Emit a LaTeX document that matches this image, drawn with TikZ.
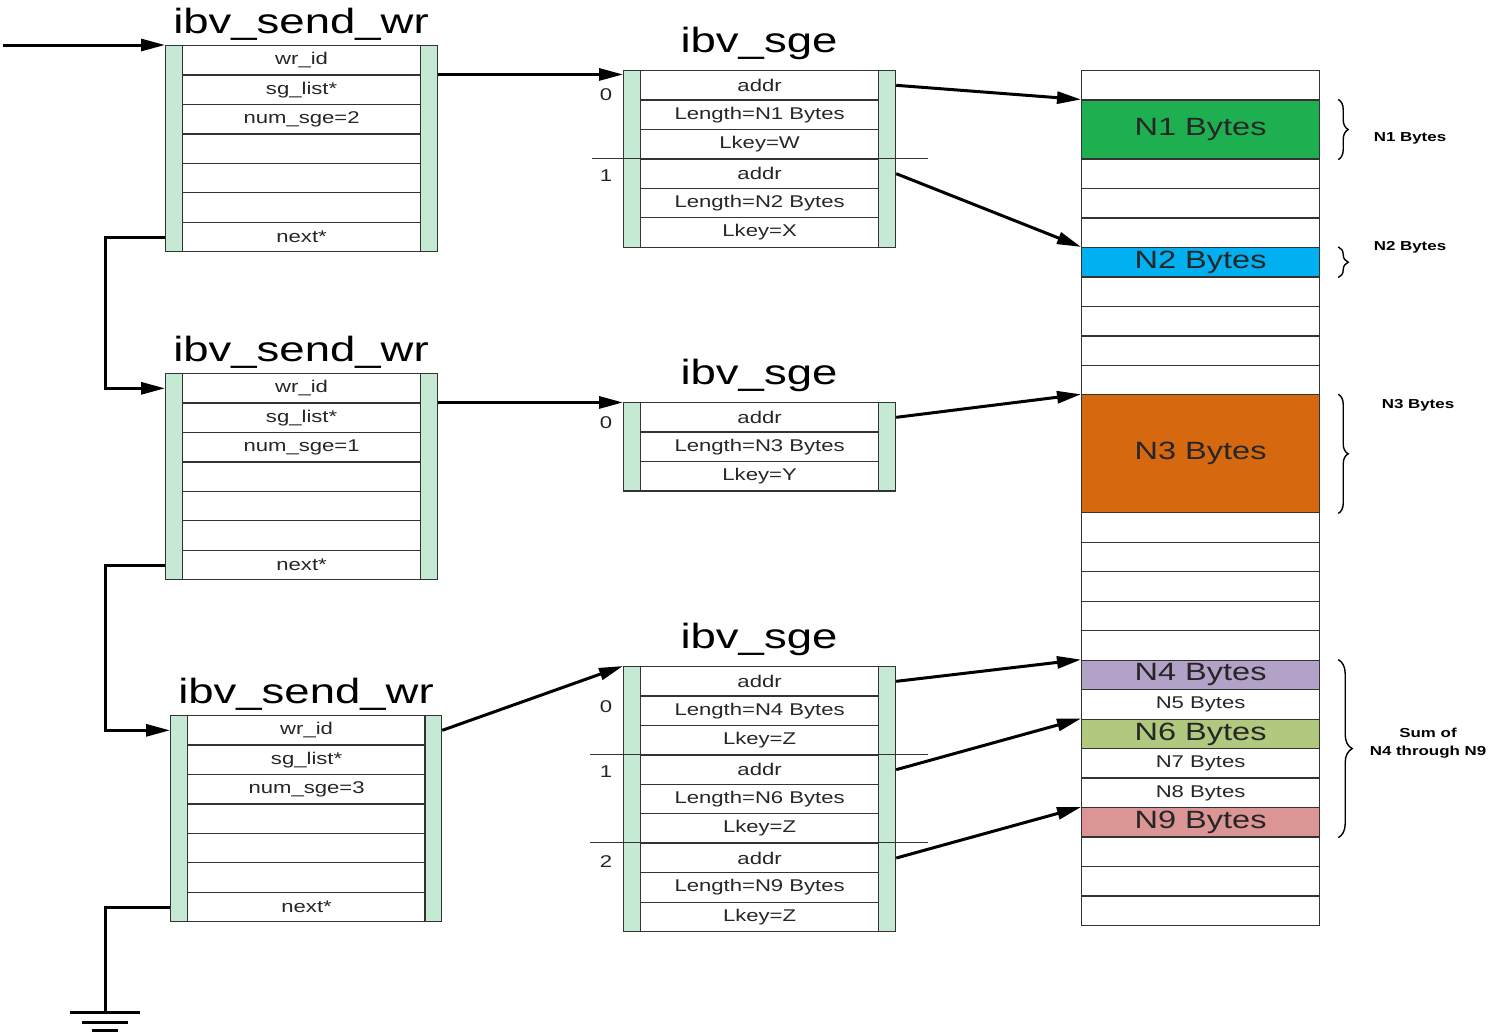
\documentclass[tikz,border=0pt]{standalone}
\usepackage{fontspec}
\setmainfont{Liberation Sans}[FakeStretch=1.3]
\usetikzlibrary{positioning,calc,arrows.meta,decorations.pathreplacing}
\definecolor{barg}{RGB}{198,233,212}
\definecolor{cna}{RGB}{30,176,80}
\definecolor{cnb}{RGB}{0,176,240}
\definecolor{cnc}{RGB}{214,104,16}
\definecolor{cnd}{RGB}{179,162,199}
\definecolor{cnf}{RGB}{176,201,126}
\definecolor{cni}{RGB}{218,149,148}
\tikzset{fld/.style={draw=black!80, line width=0.6pt, rectangle, minimum width=119pt, minimum height=14.72pt, inner sep=0pt, anchor=north west, text=black!85, font=\fontsize{8.5}{10}\selectfont}}
\tikzset{bar/.style={draw=black!80, line width=0.6pt, fill=barg, minimum width=8.5pt, inner sep=0pt, anchor=north west}}
\tikzset{big/.style={font=\fontsize{12.5}{14}\selectfont}}
\tikzset{ttl/.style={anchor=base, font=\fontsize{17.5}{20}\selectfont}}
\tikzset{idx/.style={text=black!85, font=\fontsize{8.5}{10}\selectfont}}
\tikzset{note/.style={align=center, font=\bfseries\fontsize{6.5}{9}\selectfont}}
\tikzset{arr/.style={line width=1.5pt, -{Triangle[length=12pt,width=6pt]}}}
\tikzset{wire/.style={line width=1.5pt}}
\tikzset{brc/.style={decorate, decoration={brace, amplitude=5pt}, line width=0.7pt}}
\tikzset{sep/.style={draw=black!80, line width=0.6pt}}

\begin{document}
\begin{tikzpicture}[x=0.5pt, y=-0.5pt]
\useasboundingbox (0,0) rectangle (1488,1034);

% first ibv_send_wr
\node[ttl] (ta) at (301,33) {ibv\_send\_wr};
\node[bar, minimum height=103pt] (wal) at (165,45) {};
\node[bar, minimum height=103pt] (war) at (420,45) {};
\foreach \t [count=\i] in {wr\_id, sg\_list*, num\_sge=2, {}, {}, {}, next*}
  \node[fld] (wa\i) at (182,{45+(\i-1)*29.45}) {\t};

% second ibv_send_wr
\node[ttl] (tb) at (301,361) {ibv\_send\_wr};
\node[bar, minimum height=103pt] (wbl) at (165,373) {};
\node[bar, minimum height=103pt] (wbr) at (420,373) {};
\foreach \t [count=\i] in {wr\_id, sg\_list*, num\_sge=1, {}, {}, {}, next*}
  \node[fld] (wb\i) at (182,{373+(\i-1)*29.45}) {\t};

% third ibv_send_wr
\node[ttl] (tc) at (306,703) {ibv\_send\_wr};
\node[bar, minimum height=103pt] (wcl) at (170,715) {};
\node[bar, minimum height=103pt] (wcr) at (424,715) {};
\foreach \t [count=\i] in {wr\_id, sg\_list*, num\_sge=3, {}, {}, {}, next*}
  \node[fld] (wc\i) at (187,{715+(\i-1)*29.45}) {\t};

% sge lists
\node[ttl] (ga) at (759,52) {ibv\_sge};
\node[bar, minimum height=88.3pt] (gal) at (623,70) {};
\node[bar, minimum height=88.3pt] (gar) at (878,70) {};
\foreach \t [count=\i] in {addr, Length=N1 Bytes, Lkey=W, addr, Length=N2 Bytes, Lkey=X}
  \node[fld] (ga\i) at (640,{70+(\i-1)*29.45}) {\t};
\node[idx] (ia0) at (606,95) {0};
\node[idx] (ia1) at (606,176) {1};
\draw[sep] (592,158.35) -- (928,158.35);

\node[ttl] (gb) at (759,384) {ibv\_sge};
\node[bar, minimum height=44.2pt] (gbl) at (623,402) {};
\node[bar, minimum height=44.2pt] (gbr) at (878,402) {};
\foreach \t [count=\i] in {addr, Length=N3 Bytes, Lkey=Y}
  \node[fld] (gb\i) at (640,{402+(\i-1)*29.45}) {\t};
\node[idx] (ib0) at (606,423) {0};

\node[ttl] (gc) at (759,648) {ibv\_sge};
\node[bar, minimum height=132.5pt] (gcl) at (623,666) {};
\node[bar, minimum height=132.5pt] (gcr) at (878,666) {};
\foreach \t [count=\i] in {addr, Length=N4 Bytes, Lkey=Z, addr, Length=N6 Bytes, Lkey=Z, addr, Length=N9 Bytes, Lkey=Z}
  \node[fld] (gc\i) at (640,{666+(\i-1)*29.45}) {\t};
\node[idx] (ic0) at (606,707) {0};
\node[idx] (ic1) at (606,772) {1};
\node[idx] (ic2) at (606,862) {2};
\draw[sep] (590,754.35) -- (928,754.35);
\draw[sep] (590,842.7) -- (928,842.7);

% memory
\foreach \r in {0,3,4,5,7,8,9,10,15,16,17,18,19,26,27,28}
  \node[fld] (m\r) at (1081,{70+\r*29.48}) {};
\node[fld, big, fill=cna, minimum height=29.48pt] (n1) at (1081,{70+1*29.48}) {N1 Bytes};
\node[fld, big, fill=cnb] (n2) at (1081,{70+6*29.48}) {N2 Bytes};
\node[fld, big, fill=cnc, minimum height=58.96pt] (n3) at (1081,{70+11*29.48}) {N3 Bytes};
\node[fld, big, fill=cnd] (n4) at (1081,{70+20*29.48}) {N4 Bytes};
\node[fld] (n5) at (1081,{70+21*29.48}) {N5 Bytes};
\node[fld, big, fill=cnf] (n6) at (1081,{70+22*29.48}) {N6 Bytes};
\node[fld] (n7) at (1081,{70+23*29.48}) {N7 Bytes};
\node[fld] (n8) at (1081,{70+24*29.48}) {N8 Bytes};
\node[fld, big, fill=cni] (n9) at (1081,{70+25*29.48}) {N9 Bytes};

% braces
\draw[brc] ([xshift=9pt]n1.north east) -- ([xshift=9pt]n1.south east);
\draw[brc] ([xshift=9pt]n2.north east) -- ([xshift=9pt]n2.south east);
\draw[brc] ([xshift=9pt]n3.north east) -- ([xshift=9pt]n3.south east);
\draw[brc, decoration={brace, amplitude=7pt}] ([xshift=9pt]n4.north east) -- ([xshift=9pt]n9.south east);
\node[note] (la) at (1410,138) {N1 Bytes};
\node[note] (lb) at (1410,247) {N2 Bytes};
\node[note] (lc) at (1418,405) {N3 Bytes};
\node[note] (ld) at (1428,743) {Sum of\\N4 through N9};

% pointers
\coordinate (in) at (3,45);
\coordinate (gnd) at (105,1012);
\draw[arr] (in) -- (wal.north west);
\draw[arr] (war.east |- wa2.north) -- (gal.west |- wa2.north);
\draw[arr] (wbr.east |- wb2.north) -- (gbl.west |- wb2.north);
\draw[arr] (wcr.east |- wc1.center) -- (gcl.north west);
\draw[arr] (gar.east |- ga1.center) -- (n1.north west);
\draw[arr] (gar.east |- ga4.center) -- (n2.north west);
\draw[arr] (gbr.east |- gb1.center) -- (n3.north west);
\draw[arr] (gcr.east |- gc1.center) -- (n4.north west);
\draw[arr] (gcr.east |- gc4.center) -- (n6.north west);
\draw[arr] (gcr.east |- gc7.center) -- (n9.north west);
\draw[arr] (wal.west |- wa7.center) -- ++(-60,0) |- (wbl.west |- wb1.center);
\draw[arr] (wbl.west |- wb7.center) -- ++(-60,0) |- (wcl.west |- wc1.center);
\draw[wire] (wcl.west |- wc7.center) -| (gnd);
\draw[wire] ([xshift=-17.5pt]gnd) -- ([xshift=17.5pt]gnd);
\draw[wire] ([xshift=-11.5pt,yshift=-5pt]gnd) -- ([xshift=11.5pt,yshift=-5pt]gnd);
\draw[wire] ([xshift=-6.5pt,yshift=-9pt]gnd) -- ([xshift=6.5pt,yshift=-9pt]gnd);
\end{tikzpicture}
\end{document}
